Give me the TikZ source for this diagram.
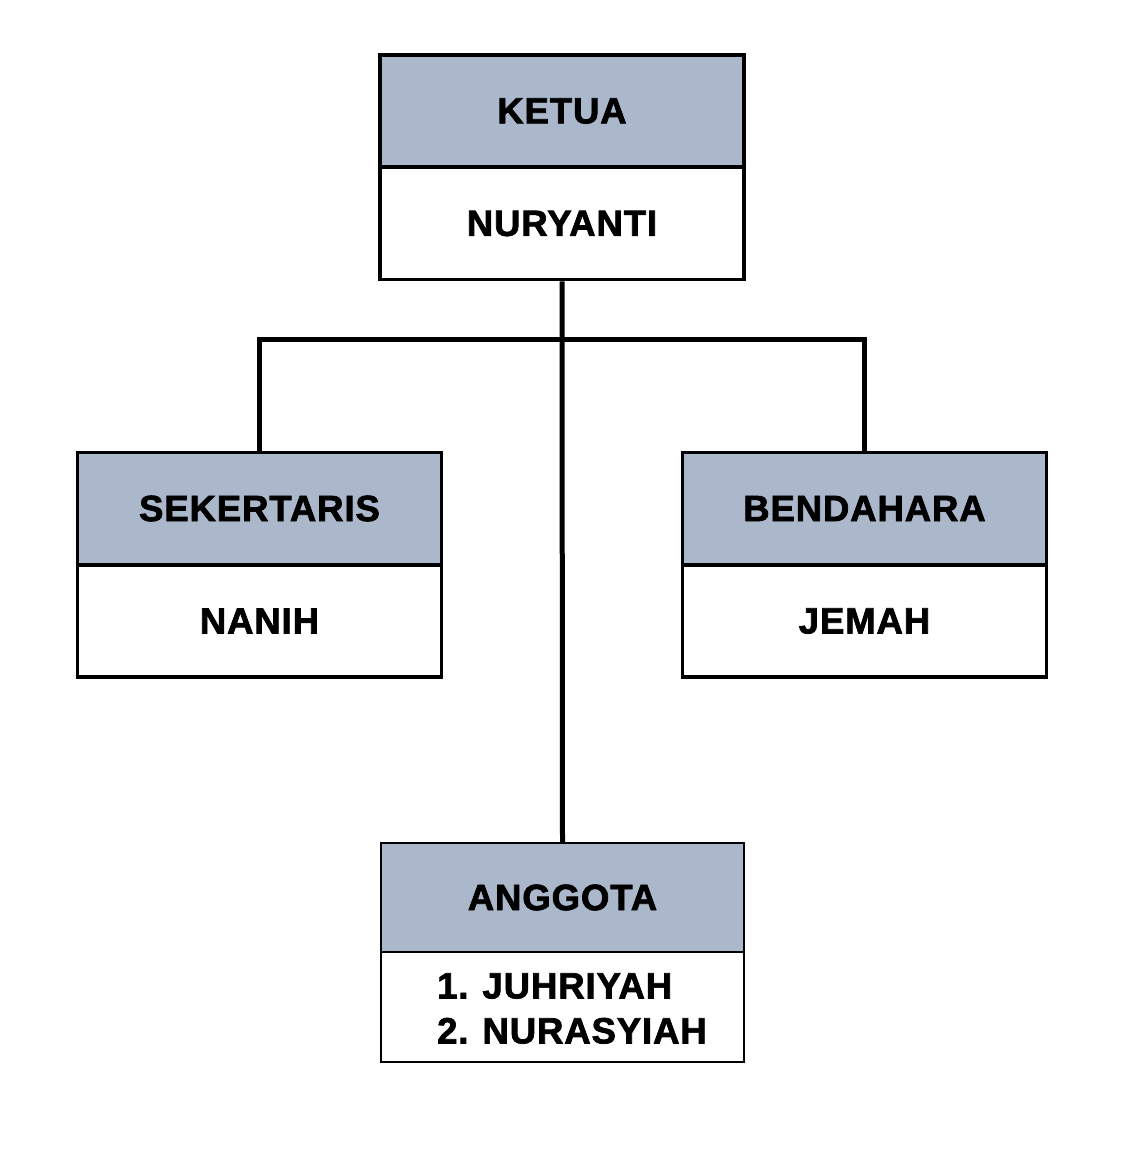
\documentclass[tikz,border=0pt]{standalone}
\usepackage{fontspec}
\setmainfont{Liberation Sans}[BoldFeatures={FakeBold=2,LetterSpace=2.5}]
\usepackage{tikz}
\definecolor{kepala}{HTML}{ABB7CA}

\begin{document}
\begin{tikzpicture}[x=1pt,y=-1pt]
\tikzstyle{every node}+=[inner sep=0pt,font=\fontsize{36.5}{45}\selectfont\bfseries]
\tikzstyle{judul}=[draw=black,line width=3.5pt,fill=kepala,minimum width=364pt,minimum height=112pt]
\tikzstyle{nama}=[draw=black,line width=3.5pt,fill=white,minimum width=364pt,minimum height=112pt]
\tikzstyle{garis}=[black,line width=5pt]
\useasboundingbox (0,0) rectangle (1129,1175);
\node [judul] (ketua) at (562,111) {KETUA};
\node [nama] (nuryanti) at (562,223.5) {NURYANTI};
\node [judul] (sekertaris) at (259.5,508.5) {SEKERTARIS};
\node [nama] (nanih) at (259.5,621) {NANIH};
\node [judul] (bendahara) at (864.5,508.5) {BENDAHARA};
\node [nama] (jemah) at (864.5,621) {JEMAH};
\node [judul,line width=1.5pt,minimum width=363pt,minimum height=109pt] (anggota) at (562.5,897.5) {ANGGOTA};
\node [nama,line width=1.5pt,minimum width=363pt,minimum height=110pt] (daftar) at (562.5,1007) {};
\node [align=left] (isi) at (572,1008.5) {1.\hspace{14pt}JUHRIYAH\\2.\hspace{14pt}NURASYIAH};
\coordinate (cabang) at (562,339);
\draw [garis] (nuryanti.south) -- (anggota.north);
\draw [garis] (sekertaris.north) |- (cabang) -| (bendahara.north);
\end{tikzpicture}
\end{document}
